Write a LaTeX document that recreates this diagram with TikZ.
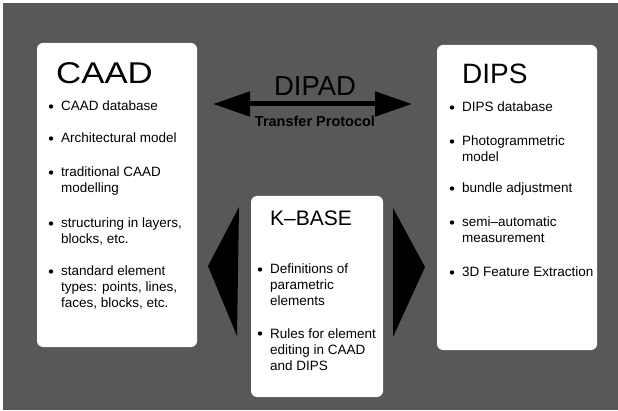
\documentclass[tikz,border=0pt]{standalone}
\usepackage{fontspec}
\usepackage{graphicx}
\setmainfont{Liberation Sans}
\usetikzlibrary{arrows.meta,calc}

\definecolor{slate}{RGB}{88,88,88}
\newcommand\bodyfont{\fontsize{13.5}{16}\selectfont}
\newcommand\stacklines[1]{\begin{tabular}[t]{@{}l@{}}#1\end{tabular}}
% bullet entry: name, x, first baseline, text
\newcommand\entryat[4]{%
  \node[entry] (#1) at (#2,#3) {\stacklines{#4}};
  \fill ($(#1.base west)+(-10,-4.5)$) circle (2.2);}

\begin{document}
\begin{tikzpicture}[x=1pt,y=-1pt,
  panel/.style={fill=white, rounded corners=6pt, inner sep=0pt},
  heading/.style={anchor=base west, inner sep=0pt, text=black},
  entry/.style={anchor=base west, inner sep=0pt, font=\bodyfont},
  bigarrow/.style={line width=5pt,
    {Triangle[length=37pt 0 0,width=24pt 0 0]}-{Triangle[length=37pt 0 0,width=24pt 0 0]}},
]
\useasboundingbox (0,0) rectangle (618,411);
\fill[white] (0,0) rectangle (618,411);
\fill[slate] (3,3) rectangle (618,410);

% the three panels
\node[panel, minimum width=160pt, minimum height=304pt] (caad) at (117,195) {};
\node[panel, minimum width=160pt, minimum height=305pt] (dips) at (517,197.5) {};
\node[panel, minimum width=132pt, minimum height=201pt] (kbase) at (317,296.5) {};

% arrowheads on both sides of the knowledge base
\fill (239,207) -- (208,266) -- (237,336) -- cycle;
\fill (393,208) -- (425,267) -- (393,337) -- cycle;

% transfer protocol arrow
\coordinate (tipL) at (213,104);
\coordinate (tipR) at (412,104);
\draw[bigarrow] (tipL) -- (tipR);
\node[anchor=base, inner sep=0pt, font=\fontsize{27.5}{27.5}\selectfont] (dipad) at (315,96) {DIPAD};
\node[anchor=base, inner sep=0pt, font=\fontsize{14.5}{14.5}\selectfont\bfseries] (proto) at (315,127) {Transfer Protocol};

% headings
\node[heading, font=\fontsize{30}{30}\selectfont] (caadT) at (56,84) {\scalebox{1.16}[1]{CAAD}};
\node[heading, font=\fontsize{28}{28}\selectfont] (dipsT) at (462,84) {DIPS};
\node[heading, font=\fontsize{21}{21}\selectfont] (kbaseT) at (270,226) {K--BASE};

% CAAD entries
\entryat{c1}{61}{111}{CAAD database}
\entryat{c2}{61}{143}{Architectural model}
\entryat{c3}{61}{177}{traditional CAAD\\modelling}
\entryat{c4}{61}{228}{structuring in layers,\\blocks, etc.}
\entryat{c5}{61}{276}{standard element\\types: points, lines,\\faces, blocks, etc.}

% DIPS entries
\entryat{d1}{462}{112}{DIPS database}
\entryat{d2}{462}{146}{Photogrammetric\\model}
\entryat{d3}{462}{193}{bundle adjustment}
\entryat{d4}{462}{227}{semi--automatic\\measurement}
\entryat{d5}{462}{277}{3D Feature Extraction}

% K-BASE entries
\entryat{k1}{270}{274}{Definitions of\\parametric\\elements}
\entryat{k2}{270}{338}{Rules for element\\editing in CAAD\\and DIPS}
\end{tikzpicture}
\end{document}
